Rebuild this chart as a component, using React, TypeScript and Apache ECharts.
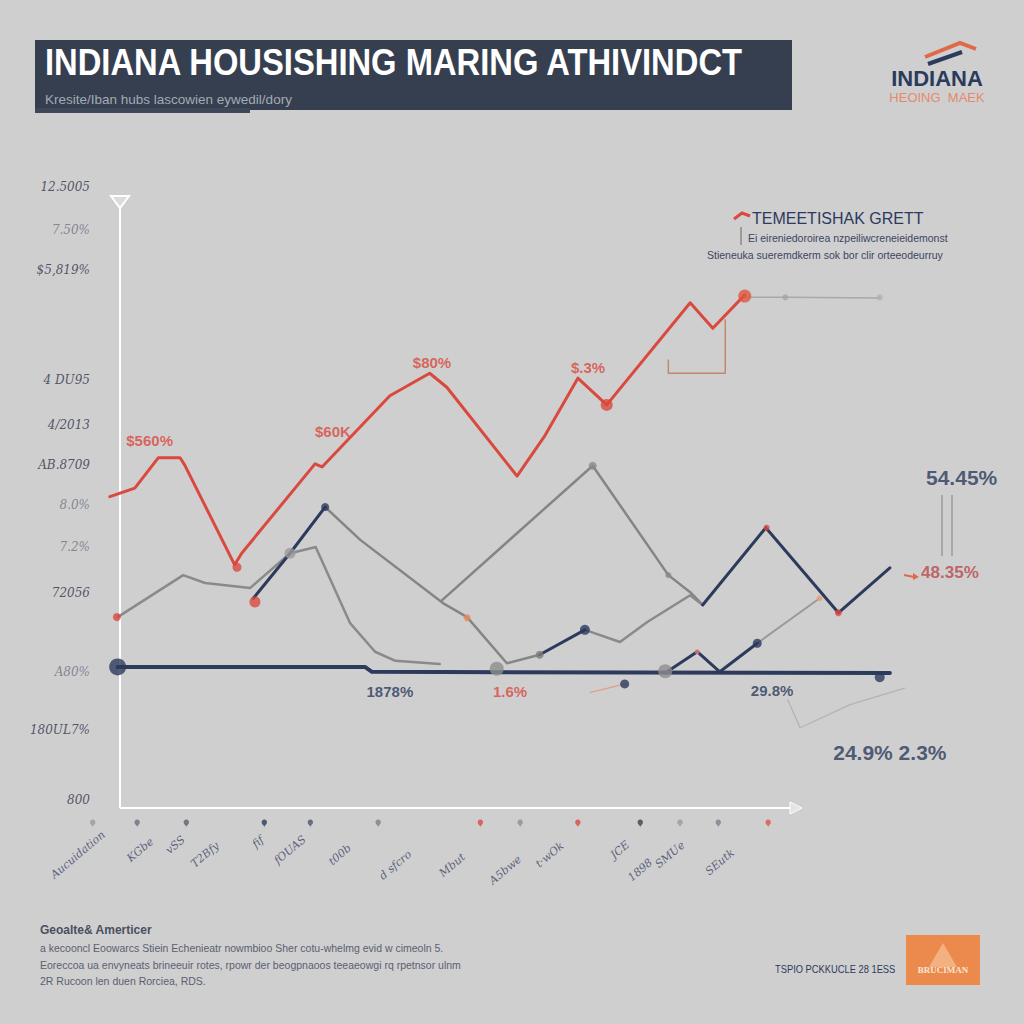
import React, { useEffect, useRef } from "react";
import * as echarts from "echarts";

// ---------- data (x: period index, y: index value) ----------
const priceSeries: number[][] = [
  [-1.3, 51.2], [1.9, 52.6], [4.9, 57.6], [7.7, 57.6], [8.3, 56.4], [14.7, 40.0], [15.6, 41.9],
  [25.0, 56.6], [25.9, 56.1], [34.6, 67.8], [39.7, 71.5], [41.9, 69.2], [50.9, 54.6], [54.5, 61.3],
  [58.7, 70.7], [62.4, 66.3], [73.1, 83.1], [76.0, 78.9], [80.1, 84.4],
];
const salesA: number[][] = [[17.1, 34.5], [21.8, 41.9], [26.3, 49.5]];
const salesB: number[][] = [[53.8, 25.2], [59.6, 29.3]];
const salesC: number[][] = [[74.7, 33.4], [82.8, 46.1], [92.1, 32.1], [98.7, 39.5]];
const salesBump: number[][] = [[69.9, 22.2], [74.0, 25.7], [76.9, 22.4], [81.7, 27.1]];
const baseline: number[][] = [[-0.3, 23.2], [31.4, 23.2], [32.3, 22.4], [98.7, 22.2]];

const inventoryA: number[][] = [[-0.3, 31.4], [8.1, 38.3], [10.9, 37.0], [16.7, 36.2], [21.8, 41.9], [25.0, 42.9]];
const inventoryB: number[][] = [[26.3, 49.5], [30.8, 44.1], [41.4, 33.7], [44.5, 31.4], [49.6, 23.8], [53.8, 25.2]];
const inventoryC: number[][] = [[41.3, 34.2], [60.6, 56.3], [70.3, 38.3], [73.1, 35.5], [74.7, 33.4]];
const inventoryD: number[][] = [[59.6, 29.3], [64.1, 27.3], [67.6, 30.6], [73.1, 35.0], [74.7, 33.4]];
const inventoryE: number[][] = [[25.1, 42.9], [29.5, 30.4], [32.7, 25.7], [35.3, 24.2], [41.0, 23.7]];
const inventoryF: number[][] = [[81.7, 27.1], [89.7, 34.5]];
const forecastTop: number[][] = [[80.1, 84.0], [85.3, 84.0], [97.4, 83.9]];
const forecastBracket: number[][] = [[77.6, 80.3], [77.6, 71.5], [70.3, 71.5], [70.3, 73.7]];
const forecastLow: number[][] = [[85.6, 17.8], [87.2, 13.2], [93.6, 17.0], [100.6, 19.7]];
const trendFaint: number[][] = [[60.3, 19.0], [62.2, 19.6], [64.7, 20.4]];

type Dot = { v: number[]; c: string; s: number };
const dots: Dot[] = [
  { v: [-0.4, 31.4], c: "#d9493e", s: 8 },
  { v: [15.0, 39.6], c: "#d9493e", s: 9 },
  { v: [17.3, 33.9], c: "#d9493e", s: 11 },
  { v: [21.8, 41.9], c: "#9a9a9a", s: 11 },
  { v: [62.4, 66.3], c: "#d9493e", s: 12 },
  { v: [80.1, 84.2], c: "#e0553f", s: 13 },
  { v: [82.9, 46.1], c: "#d9493e", s: 6 },
  { v: [92.1, 32.1], c: "#d9493e", s: 7 },
  { v: [44.5, 31.3], c: "#e88a5a", s: 7 },
  { v: [89.7, 34.5], c: "#e8a070", s: 6 },
  { v: [-0.3, 23.2], c: "#2c3a5c", s: 17 },
  { v: [97.4, 21.5], c: "#2c3a5c", s: 10 },
  { v: [48.3, 22.9], c: "#8d8d8d", s: 14 },
  { v: [69.9, 22.5], c: "#8d8d8d", s: 14 },
  { v: [64.7, 20.4], c: "#2c3a5c", s: 9 },
  { v: [60.6, 56.3], c: "#8a8a8a", s: 8 },
  { v: [59.6, 29.3], c: "#2c3a5c", s: 10 },
  { v: [53.8, 25.2], c: "#7d7d7d", s: 8 },
  { v: [81.7, 27.1], c: "#2c3a5c", s: 9 },
  { v: [85.3, 84.0], c: "#a5a5a5", s: 6 },
  { v: [97.4, 84.0], c: "#b0b0b0", s: 6 },
  { v: [26.3, 49.5], c: "#2c3a5c", s: 8 },
  { v: [70.3, 38.3], c: "#8a8a8a", s: 6 },
  { v: [74.0, 25.7], c: "#e07a7a", s: 5 },
];

const yTickValues = [102.1, 95.1, 88.5, 70.4, 63.0, 56.4, 49.8, 42.9, 35.4, 22.4, 12.8, 1.3];
const yTickLabels = ["12.5005", "7.50%", "$5,819%", "4 DU95", "4/2013", "AB.8709", "8.0%", "7.2%", "72056", "A80%", "180UL7%", "800"];
const yTickMuted = [false, true, false, false, false, false, true, true, false, true, false, false];

const xLabelPos: number[][] = [
  [-5.4, -7.7], [2.6, -6.9], [7.1, -6.1], [10.9, -7.7], [17.7, -5.6], [21.8, -6.9], [28.2, -7.7],
  [35.3, -9.4], [42.6, -9.4], [49.4, -10.2], [55.1, -7.7], [64.1, -6.9], [66.7, -10.2], [70.5, -7.7], [76.9, -8.9],
];
const xLabels = ["Aucuidation", "KGbe", "vSS", "T2Bfy", "fif", "fOUAS", "t00b", "d sfcro", "Mbut", "A5bwe", "t·wOk", "JCE", "1898", "SMUe", "SEutk"];

const iconX = [-3.5, 2.2, 8.5, 18.5, 24.4, 33.1, 46.2, 51.3, 58.7, 66.7, 71.8, 76.7, 83.1];
const iconColors = ["#9a9a9a", "#6a6f80", "#5a6070", "#2c3a5c", "#4a5570", "#7a7f8a", "#d9493e", "#8a8f9a", "#d9493e", "#3a4050", "#9a9a9a", "#7a7f8a", "#e0553f"];

const calloutPos: number[][] = [
  [3.8, 60.5], [27.3, 62.0], [40.0, 73.2], [60.0, 72.5], [34.6, 19.2], [50.0, 19.2], [83.6, 19.4],
  [107.9, 54.3], [106.4, 38.7], [98.7, 9.2],
];
const calloutText = ["$560%", "$60K", "$80%", "$.3%", "1878%", "1.6%", "29.8%", "54.45%", "48.35%", "24.9% 2.3%"];
const calloutColor = ["#d9493e", "#d9493e", "#d9493e", "#d9493e", "#2c3a5c", "#d9493e", "#2c3a5c", "#2c3a5c", "#b8484a", "#2c3a5c"];
const calloutSize = [15, 15, 15, 15, 15, 15, 15, 21, 17, 21];

const titleText = "INDIANA HOUSISHING MARING ATHIVINDCT";
const subtitleText = "Kresite/Iban hubs lascowien eywedil/dory";
const legendTitle = "TEMEETISHAK GRETT";
const legendLines = ["Ei eireniedoroirea nzpeiliwcreneieidemonst", "Stieneuka sueremdkerm sok bor clir orteeodeurruy"];
const footerTitle = "Geoalte& Amerticer";
const footerLines = [
  "a kecooncl Eoowarcs Stiein Echenieatr nowmbioo Sher cotu-whelmg evid w cimeoln 5.",
  "Eoreccoa ua envyneats brineeuir rotes, rpowr der beogpnaoos teeaeowgi rq rpetnsor ulnm",
  "2R Rucoon len duen Rorciea, RDS.",
];
const sourceText = "TSPIO PCKKUCLE 28 1ESS";

// ---------- helpers ----------
const lineSeries = (data: number[][], color: string, width: number, z = 2) => ({
  type: "line",
  data,
  showSymbol: false,
  symbol: "none",
  lineStyle: { color, width, cap: "round", join: "round" },
  z,
  clip: false,
  silent: true,
});

export default function App() {
  const ref = useRef<HTMLDivElement>(null);

  useEffect(() => {
    document.body.style.margin = "0";
    const chart = echarts.init(ref.current!, null, { renderer: "svg" });
    const option: any = {
      animation: false,
      backgroundColor: "#cfcfd0",
      grid: { left: 57.6, right: 7, top: 169.6, bottom: 124.8 },
      xAxis: { type: "value", min: -8, max: 115, show: false },
      yAxis: { type: "value", min: -15, max: 105, show: false },
      series: [
        lineSeries(inventoryA, "#8a8a8a", 2.5),
        lineSeries(inventoryB, "#858585", 2.5),
        lineSeries(inventoryC, "#858585", 2.5),
        lineSeries(inventoryD, "#8a8a8a", 2.5),
        lineSeries(inventoryE, "#8a8a8a", 2.5),
        lineSeries(inventoryF, "#9a9a9a", 2),
        lineSeries(forecastTop, "#a8a8a4", 1.5),
        lineSeries(forecastBracket, "#c08a6a", 1.5),
        lineSeries(forecastLow, "#b4b4ac", 1.3),
        lineSeries(trendFaint, "#e0a080", 1.3),
        lineSeries(baseline, "#2c3a5c", 4, 3),
        lineSeries(salesBump, "#2c3a5c", 3, 3),
        lineSeries(salesA, "#2c3a5c", 3, 3),
        lineSeries(salesB, "#2c3a5c", 3, 3),
        lineSeries(salesC, "#2c3a5c", 3, 3),
        lineSeries(priceSeries, "#d9493e", 3, 4),
        {
          type: "scatter",
          clip: false,
          silent: true,
          z: 5,
          data: dots.map((d) => ({ value: d.v, symbolSize: d.s, itemStyle: { color: d.c } })),
        },
        {
          type: "scatter",
          clip: false,
          silent: true,
          symbolSize: 0,
          data: yTickValues.map((v, i) => ({
            value: [0, v],
            label: { color: yTickMuted[i] ? "#6e7280" : "#2f3448" },
          })),
          label: {
            show: true,
            position: "left",
            distance: 30,
            fontFamily: "DejaVu Serif",
            fontStyle: "italic",
            fontSize: 12,
            formatter: (p: any) => yTickLabels[p.dataIndex],
          },
        },
        {
          type: "scatter",
          clip: false,
          silent: true,
          symbolSize: 0,
          data: xLabelPos,
          label: {
            show: true,
            position: "inside",
            rotate: 40,
            fontFamily: "DejaVu Serif",
            fontStyle: "italic",
            fontSize: 11,
            color: "#3b4466",
            formatter: (p: any) => xLabels[p.dataIndex],
          },
        },
        {
          type: "scatter",
          clip: false,
          silent: true,
          symbol: "pin",
          symbolSize: 9,
          data: iconX.map((x, i) => ({ value: [x, -3.2], itemStyle: { color: iconColors[i] } })),
        },
        {
          type: "scatter",
          clip: false,
          silent: true,
          symbolSize: 0,
          z: 6,
          data: calloutPos.map((v, i) => ({
            value: v,
            label: { color: calloutColor[i], fontSize: calloutSize[i] },
          })),
          label: {
            show: true,
            position: "inside",
            fontFamily: "Liberation Sans Narrow, Liberation Sans, sans-serif",
            fontWeight: "bold",
            formatter: (p: any) => calloutText[p.dataIndex],
          },
        },
      ],
      graphic: [
        { type: "rect", shape: { x: 35, y: 40, width: 757, height: 70 }, style: { fill: "#353f50" }, z: 10 },
        { type: "rect", shape: { x: 35, y: 108, width: 215, height: 5 }, style: { fill: "#3f4858" }, z: 10 },
        {
          type: "text", x: 45, y: 62, scaleX: 0.885, z: 11,
          style: { text: titleText, fill: "#ffffff", fontSize: 37, fontWeight: "bold", fontFamily: "Liberation Sans", verticalAlign: "middle" },
        },
        {
          type: "text", x: 45, y: 99, z: 11,
          style: { text: subtitleText, fill: "#a4aab4", fontSize: 13.5, fontFamily: "Liberation Sans", verticalAlign: "middle" },
        },
        { type: "polyline", shape: { points: [[925, 57], [960, 43], [976, 49]] }, style: { stroke: "#e0694a", lineWidth: 4, fill: "none" }, z: 10 },
        { type: "polyline", shape: { points: [[928, 64], [962, 52]] }, style: { stroke: "#2c3a5c", lineWidth: 4, fill: "none" }, z: 10 },
        {
          type: "text", x: 937, y: 78, z: 10,
          style: { text: "INDIANA", fill: "#2c3a5c", fontSize: 22, fontWeight: "bold", fontFamily: "Liberation Sans", align: "center", verticalAlign: "middle" },
        },
        {
          type: "text", x: 937, y: 97, z: 10,
          style: { text: "HEOING  MAEK", fill: "#e58a6a", fontSize: 13, fontFamily: "Liberation Sans", align: "center", verticalAlign: "middle" },
        },
        // axes
        { type: "line", shape: { x1: 120, y1: 205, x2: 120, y2: 808 }, style: { stroke: "#ffffff", lineWidth: 2 }, z: 1 },
        { type: "polygon", shape: { points: [[111, 196], [129, 196], [120, 208]] }, style: { fill: "#dcdcdc", stroke: "#ffffff", lineWidth: 2 }, z: 1 },
        { type: "line", shape: { x1: 120, y1: 808, x2: 795, y2: 808 }, style: { stroke: "#ffffff", lineWidth: 2 }, z: 1 },
        { type: "polygon", shape: { points: [[790, 802], [802, 808], [790, 814]] }, style: { fill: "#e4e4e4", stroke: "#ffffff", lineWidth: 1 }, z: 1 },
        // legend block
        { type: "polyline", shape: { points: [[734, 219], [742, 213], [750, 216]] }, style: { stroke: "#d9493e", lineWidth: 3, fill: "none" }, z: 10 },
        {
          type: "text", x: 752, y: 218, z: 10,
          style: { text: legendTitle, fill: "#2c3a5c", fontSize: 16, fontFamily: "Liberation Sans", verticalAlign: "middle" },
        },
        { type: "line", shape: { x1: 741, y1: 227, x2: 741, y2: 245 }, style: { stroke: "#8a8a8a", lineWidth: 1.5 }, z: 10 },
        {
          type: "text", x: 748, y: 238, z: 10,
          style: { text: legendLines[0], fill: "#3c4560", fontSize: 10.5, fontFamily: "Liberation Sans", verticalAlign: "middle" },
        },
        {
          type: "text", x: 707, y: 255, z: 10,
          style: { text: legendLines[1], fill: "#3c4560", fontSize: 10.5, fontFamily: "Liberation Sans", verticalAlign: "middle" },
        },
        // right annotations
        { type: "line", shape: { x1: 942, y1: 495, x2: 942, y2: 556 }, style: { stroke: "#9a9a9a", lineWidth: 1.5 }, z: 10 },
        { type: "line", shape: { x1: 952, y1: 495, x2: 952, y2: 556 }, style: { stroke: "#9a9a9a", lineWidth: 1.5 }, z: 10 },
        { type: "line", shape: { x1: 904, y1: 575, x2: 914, y2: 577 }, style: { stroke: "#e0694a", lineWidth: 2 }, z: 10 },
        { type: "polygon", shape: { points: [[913, 573], [919, 577], [913, 580]] }, style: { fill: "#e0694a" }, z: 10 },
        // footer
        {
          type: "text", x: 40, y: 930, z: 10,
          style: { text: footerTitle, fill: "#4a5060", fontSize: 12, fontWeight: "bold", fontFamily: "Liberation Sans", verticalAlign: "middle" },
        },
        ...footerLines.map((t, i) => ({
          type: "text", x: 40, y: 948 + i * 16.5, z: 10,
          style: { text: t, fill: "#5a6070", fontSize: 10.5, fontFamily: "Liberation Sans", verticalAlign: "middle" },
        })),
        {
          type: "text", x: 775, y: 969, z: 10, scaleX: 0.85,
          style: { text: sourceText, fill: "#2c3a5c", fontSize: 11, fontFamily: "Liberation Sans", verticalAlign: "middle" },
        },
        { type: "rect", shape: { x: 906, y: 935, width: 74, height: 50 }, style: { fill: "#ec8a4d" }, z: 10 },
        { type: "polygon", shape: { points: [[943, 943], [929, 967], [957, 967]] }, style: { fill: "#f3b081" }, z: 11 },
        {
          type: "text", x: 943, y: 970, z: 12,
          style: { text: "BRUCIMAN", fill: "#f7e6d6", fontSize: 9, fontWeight: "bold", fontFamily: "Liberation Serif", align: "center", verticalAlign: "middle" },
        },
      ],
    };
    chart.setOption(option);
    return () => chart.dispose();
  }, []);

  return <div ref={ref} style={{ position: "fixed", left: 0, top: 0, width: 1024, height: 1024 }} />;
}
